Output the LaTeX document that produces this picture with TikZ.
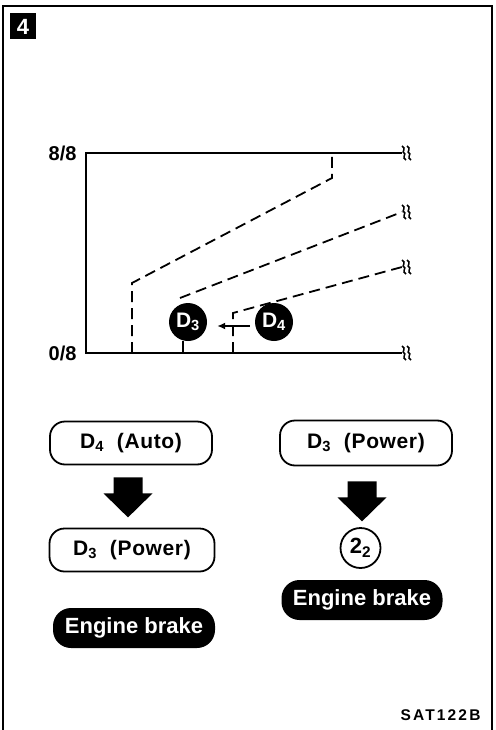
\documentclass[tikz,border=0pt]{standalone}
\usepackage{fontspec}
\setmainfont{Liberation Sans}
\usetikzlibrary{arrows.meta}

\begin{document}
\begin{tikzpicture}[x=1pt,y=-1pt,
  gear/.style={circle,fill=black,text=white,minimum size=38pt,inner sep=0pt,font=\bfseries\fontsize{21}{21}\selectfont},
  mode/.style={draw,line width=1.8pt,rounded corners=15pt,minimum height=43pt,inner sep=0pt,font=\bfseries\fontsize{21}{21}\selectfont\addfontfeature{LetterSpace=3}},
  brake/.style={fill=black,text=white,rounded corners=18pt,minimum height=40pt,minimum width=162pt,inner sep=0pt,font=\bfseries\fontsize{22}{22}\selectfont},
  axis/.style={line width=2pt},
  curve/.style={line width=1.8pt,dash pattern=on 11pt off 6pt},
  arrow/.style={-{Latex[length=8pt,width=7pt]},line width=1.6pt},
  brk/.pic={
    \draw[line width=1.5pt] (-2,-7) .. controls (3,-5) and (-3,0) .. (0,0) .. controls (3,0) and (-3,5) .. (2,7);
    \draw[line width=1.5pt] (3,-7) .. controls (8,-5) and (2,0) .. (5,0) .. controls (8,0) and (2,5) .. (7,7);
  },
  blockarrow/.pic={
    \fill (-14.5,0) -- (14.5,0) -- (14.5,16) -- (24.5,16) -- (0,40) -- (-24.5,16) -- (-14.5,16) -- cycle;
  }
]
  \useasboundingbox (0,0) rectangle (495,730);
  \draw[line width=1.5pt] (3,730) -- (3,6) -- (492,6) -- (492,730);
  \node[fill=black,text=white,minimum size=26pt,inner sep=0pt,font=\bfseries\fontsize{22}{22}\selectfont] (fig) at (23,26.5) {4};

  % chart
  \node[anchor=east,font=\bfseries\fontsize{20}{20}\selectfont] (full) at (80,153) {8/8};
  \node[anchor=east,font=\bfseries\fontsize{20}{20}\selectfont] (empty) at (80,353) {0/8};
  \coordinate (top) at (402,153);
  \coordinate (bot) at (402,353);
  \draw[axis] (top) -- (86,153) -- (86,353) -- (bot);
  \pic at (404,153) {brk};
  \pic at (404,353) {brk};

  \draw[curve] (132,353) -- (132,283) -- (332,178) -- (332,153);
  \coordinate (endb) at (402,212);
  \draw[curve] (180,298) -- (endb);
  \pic at (404,212) {brk};
  \coordinate (endc) at (402,267);
  \draw[curve] (233,353) -- (233,313) -- (endc);
  \pic at (404,267) {brk};

  \node[gear] (dthree) at (188,322) {D\textsubscript{3}};
  \node[gear] (dfour) at (274,322) {D\textsubscript{4}};
  \draw[axis] (183,341) -- (183,353);
  \draw[arrow,shorten <=5pt,shorten >=10pt] ([yshift=-4pt]dfour.west) -- ([yshift=-4pt]dthree.east);

  % modes
  \node[mode,minimum width=162pt] (dauto) at (131,443) {D\textsubscript{4}\ \ (Auto)};
  \node[mode,minimum width=165pt] (dpowl) at (132,550) {D\textsubscript{3}\ \ (Power)};
  \node[brake] (ebl) at (134,628) {Engine brake};
  \pic at ([xshift=-3pt,yshift=-12pt]dauto.south) {blockarrow};

  \node[mode,minimum width=172pt,minimum height=45pt] (dpowr) at (366,443) {D\textsubscript{3}\ \ (Power)};
  \node[circle,draw,line width=1.8pt,minimum size=40pt,inner sep=0pt,font=\bfseries\fontsize{22}{22}\selectfont] (gtwo) at (360.5,548) {2\textsubscript{2}};
  \node[brake,minimum width=161pt] (ebr) at (362,600) {Engine brake};
  \pic at ([xshift=-4pt,yshift=-15pt]dpowr.south) {blockarrow};

  \node[anchor=east,font=\bfseries\fontsize{15.5}{15.5}\selectfont\addfontfeature{LetterSpace=14}] (code) at (484,715) {SAT122B};
\end{tikzpicture}
\end{document}
